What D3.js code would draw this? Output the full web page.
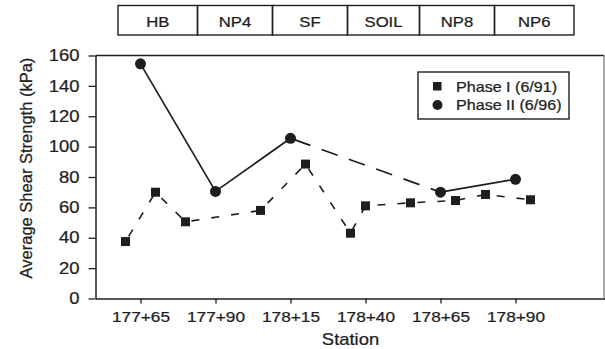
<!DOCTYPE html>
<html>
<head>
<meta charset="utf-8">
<script src="https://d3js.org/d3.v7.min.js"></script>
<style>
  html, body { margin: 0; padding: 0; background: #fff; }
  svg { display: block; }
  text { font-family: "Liberation Sans", Arial, sans-serif; fill: #1e1e1e; stroke: #1e1e1e; stroke-width: 0.25px; }
</style>
</head>
<body>
<div id="chart"></div>
<script>
// station numbers stored as plain feet (177+65 -> 17765)
const phase1Station = [17760, 17770, 17780, 17805, 17820, 17835, 17840, 17855, 17870, 17880, 17895];
const phase1Value   = [37.5, 70, 50.5, 58, 88.5, 43, 61, 63, 64.5, 68.5, 65];
const phase2Station = [17765, 17790, 17815, 17865, 17890];
const phase2Value   = [154.5, 70.5, 105.5, 70, 78.5];
const xTicks = [17765, 17790, 17815, 17840, 17865, 17890];
const yTicks = [0, 20, 40, 60, 80, 100, 120, 140, 160];
const zoneNames = ["HB", "NP4", "SF", "SOIL", "NP8", "NP6"];
const zoneEdges = [17757.5, 17784, 17809, 17834, 17858, 17883, 17909.5];
const seriesNames = ["Phase I (6/91)", "Phase II (6/96)"];

const W = 605, H = 349;
const INK = "#1e1e1e";
const STRETCH = 1.15; // scanned text is wider than it is tall

const fmtStation = s => Math.floor(s / 100) + "+" + String(s % 100).padStart(2, "0");

const svg = d3.select("#chart").append("svg").attr("width", W).attr("height", H);

const x = d3.scaleLinear().domain([17750, 17920]).range([95.5, 605.5]);
const y = d3.scaleLinear().domain([0, 160]).range([298.5, 55.5]);

// top frame line + right edge
svg.append("line").attr("x1", x(17750)).attr("x2", x(17920) - 1.5)
  .attr("y1", y(160)).attr("y2", y(160)).attr("stroke", INK).attr("stroke-width", 1.5);
svg.append("line").attr("x1", x(17920) - 1.5).attr("x2", x(17920) - 1.5)
  .attr("y1", y(160)).attr("y2", y(0)).attr("stroke", "#555").attr("stroke-width", 1);

// y axis
const gy = svg.append("g").attr("transform", `translate(${x(17750)},0)`)
  .call(d3.axisLeft(y).tickValues(yTicks).tickSize(7).tickPadding(9).tickSizeOuter(0));
gy.select(".domain").attr("stroke", INK).attr("stroke-width", 1.5);
gy.selectAll(".tick line").attr("stroke", INK).attr("stroke-width", 1.3);
gy.selectAll(".tick text")
  .attr("transform", function () { return `translate(${d3.select(this).attr("x")},0) scale(${STRETCH},1)`; })
  .attr("x", 0)
  .style("font-size", "16px").attr("fill", INK);

// x axis
const gx = svg.append("g").attr("transform", `translate(0,${y(0)})`)
  .call(d3.axisBottom(x).tickValues(xTicks).tickFormat(fmtStation).tickSize(5).tickPadding(8).tickSizeOuter(0));
gx.select(".domain").attr("stroke", INK).attr("stroke-width", 1.5);
gx.selectAll(".tick line").attr("stroke", INK).attr("stroke-width", 1.3);
gx.selectAll(".tick text")
  .attr("transform", function () { return `translate(0,${d3.select(this).attr("y")}) scale(${STRETCH},1)`; })
  .attr("y", 0)
  .style("font-size", "15px").attr("fill", INK);

// axis titles
svg.append("text")
  .attr("transform", `translate(${x(17835)},345) scale(${STRETCH},1)`)
  .attr("text-anchor", "middle").style("font-size", "16px").text("Station");
svg.append("text")
  .attr("transform", "translate(32,168) rotate(-90)")
  .attr("text-anchor", "middle").style("font-size", "16.5px").text("Average Shear Strength (kPa)");

// zone header boxes
const zones = zoneNames.map((n, i) => ({ name: n, a: zoneEdges[i], b: zoneEdges[i + 1] }));
const gz = svg.append("g");
gz.selectAll("rect").data(zones).join("rect")
  .attr("x", d => x(d.a)).attr("width", d => x(d.b) - x(d.a))
  .attr("y", 5.5).attr("height", 29.5)
  .attr("fill", "none").attr("stroke", INK).attr("stroke-width", 1.4);
gz.selectAll("text").data(zones).join("text")
  .attr("transform", d => `translate(${(x(d.a) + x(d.b)) / 2},26.5) scale(${STRETCH},1)`)
  .attr("text-anchor", "middle").style("font-size", "14.5px").text(d => d.name);

// Phase I: short dashed line with squares
const p1 = phase1Station.map((s, i) => [s, phase1Value[i]]);
const p2 = phase2Station.map((s, i) => [s, phase2Value[i]]);
const line = d3.line().x(d => x(d[0])).y(d => y(d[1]));

svg.append("path").datum(p1).attr("d", line)
  .attr("fill", "none").attr("stroke", INK).attr("stroke-width", 1.6)
  .attr("stroke-dasharray", "8,12").attr("stroke-dashoffset", -6);

// Phase II: solid where stations are consecutive, long dashes across the gap
const segs = d3.pairs(p2);
svg.append("g").selectAll("path").data(segs).join("path")
  .attr("d", line)
  .attr("fill", "none").attr("stroke", INK).attr("stroke-width", 1.7)
  .attr("stroke-dasharray", d => (d[1][0] - d[0][0] > 25 ? "17,12" : null))
  .attr("stroke-dashoffset", -4);

svg.append("g").selectAll("rect").data(p1).join("rect")
  .attr("x", d => x(d[0]) - 4.5).attr("y", d => y(d[1]) - 4.5)
  .attr("width", 9).attr("height", 9).attr("fill", INK);

svg.append("g").selectAll("circle").data(p2).join("circle")
  .attr("cx", d => x(d[0])).attr("cy", d => y(d[1])).attr("r", 5.5).attr("fill", INK);

// legend
const lg = svg.append("g").attr("transform", "translate(418,72)");
lg.append("rect").attr("width", 151).attr("height", 47)
  .attr("fill", "#fff").attr("stroke", INK).attr("stroke-width", 1.4);
lg.append("rect").attr("x", 15).attr("y", 10).attr("width", 8.5).attr("height", 8.5).attr("fill", INK);
lg.append("circle").attr("cx", 19.5).attr("cy", 33).attr("r", 5).attr("fill", INK);
lg.selectAll("text").data(seriesNames).join("text")
  .attr("transform", (d, i) => `translate(38,${19.5 + i * 18}) scale(${STRETCH},1)`)
  .style("font-size", "14px").text(d => d);
</script>
</body>
</html>
